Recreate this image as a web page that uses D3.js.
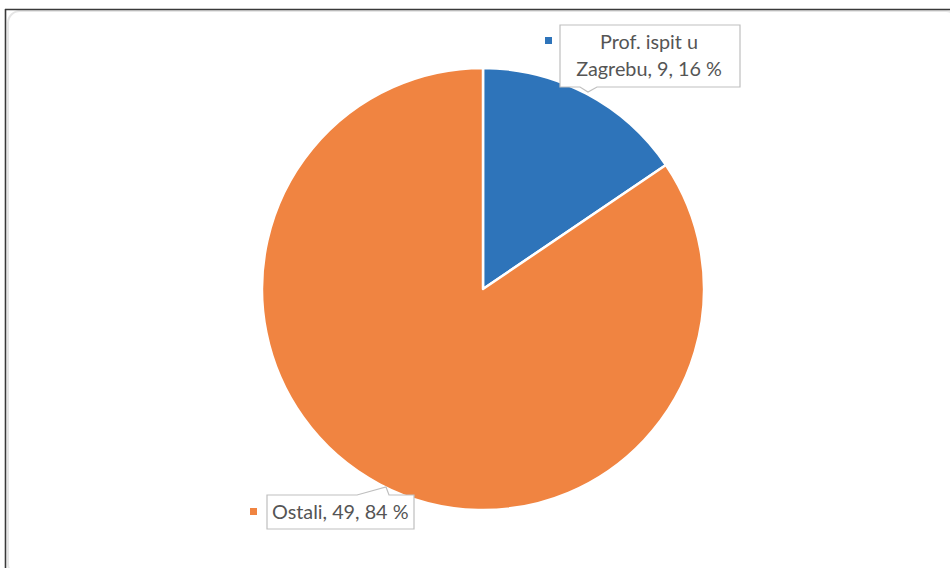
<!DOCTYPE html>
<html><head><meta charset="utf-8">
<script src="https://cdn.jsdelivr.net/npm/d3@7/dist/d3.min.js"></script>
<style>html,body{margin:0;padding:0;background:#fff;}svg{display:block;}</style>
</head><body>
<svg id="chart" width="950" height="568"></svg>
<script>
const categories = ["Prof. ispit u Zagrebu", "Ostali"];
const values = [9, 49];
const percents = [16, 84];
const labelLines = [["Prof. ispit u", "Zagrebu, 9, 16 %"], ["Ostali, 49, 84 %"]];
const colors = ["#2E74BA", "#F08441"];

const svg = d3.select("#chart");
const W = 950, H = 568;

// frame
svg.append("rect").attr("x", 8).attr("y", 11).attr("width", 950).attr("height", 565)
  .attr("rx", 12).attr("fill", "#fff").attr("stroke", "#e6e6e6").attr("stroke-width", 2);
svg.append("line").attr("x1", 5.5).attr("x2", 5.5).attr("y1", 9).attr("y2", H)
  .attr("stroke", "#3a3a3a").attr("stroke-width", 1.6);
svg.append("line").attr("x1", 5).attr("x2", W).attr("y1", 9.5).attr("y2", 9.5)
  .attr("stroke", "#3a3a3a").attr("stroke-width", 1.6);

const cx = 483, cy = 289, r = 221;
const pie = d3.pie().sort(null).value(d => d)(values);
const arc = d3.arc().innerRadius(0).outerRadius(r);
const g = svg.append("g").attr("transform", `translate(${cx},${cy})`);
g.selectAll("path").data(pie).join("path")
  .attr("d", arc).attr("fill", (d, i) => colors[i])
  .attr("stroke", "#fff").attr("stroke-width", 2.5).attr("stroke-linejoin", "round");

// callouts
const font = "Lato, 'Open Sans', sans-serif";
const callouts = [
  {box: [560, 25, 740, 87], ptr: [[580, 87], [588, 92], [597, 87]], sq: [545, 37], lines: labelLines[0], anchor: "middle", tx: 649, ty: [49, 76]},
  {box: [267, 495, 414, 529], ptr: [[357, 495], [386, 487], [389, 495]], sq: [250, 508], lines: labelLines[1], anchor: "start", tx: 272, ty: [519]}
];
callouts.forEach((c, i) => {
  const [x0, y0, x1, y1] = c.box;
  const p = d3.path();
  p.moveTo(x0, y0);
  if (c.ptr[1][1] < y0) {
    p.lineTo(c.ptr[0][0], y0); p.lineTo(c.ptr[1][0], c.ptr[1][1]); p.lineTo(c.ptr[2][0], y0);
  }
  p.lineTo(x1, y0); p.lineTo(x1, y1);
  if (c.ptr[1][1] > y1) {
    p.lineTo(c.ptr[2][0], y1); p.lineTo(c.ptr[1][0], c.ptr[1][1]); p.lineTo(c.ptr[0][0], y1);
  }
  p.lineTo(x0, y1); p.closePath();
  svg.append("path").attr("d", p.toString()).attr("fill", "#fff")
    .attr("stroke", "#bfbfbf").attr("stroke-width", 1.2);
  svg.append("rect").attr("x", c.sq[0]).attr("y", c.sq[1]).attr("width", 7).attr("height", 7)
    .attr("fill", colors[i]);
  c.lines.forEach((t, j) => {
    svg.append("text").attr("x", c.tx).attr("y", c.ty[j]).attr("text-anchor", c.anchor)
      .attr("font-family", font).attr("font-size", 19.8).attr("fill", "#555555").text(t);
  });
});
</script>
</body></html>
